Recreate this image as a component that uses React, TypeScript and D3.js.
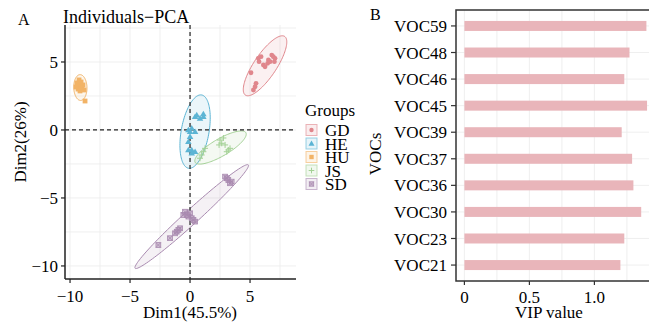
import React from "react";
import * as d3 from "d3";

// ---- data: PCA scores (Dim1, Dim2) per group ----
const groups = ["GD", "HE", "HU", "JS", "SD"];
const groupColors = ["#E0868C", "#5BB4D4", "#F2B366", "#A3D195", "#A98AB0"];

const gdPoints = [
  [5.69, 5.27], [5.75, 5.02], [5.92, 5.39], [6.11, 4.78], [6.25, 4.65], [6.47, 4.9],
  [6.53, 5.15], [6.67, 5.02], [6.81, 5.51], [6.94, 5.39], [7.08, 5.27], [7.03, 5.02],
  [5.42, 3.18], [5.28, 2.94], [5.5, 3.43], [5.08, 4.21],
];
const hePoints = [
  [0.42, 0.98], [0.56, 1.1], [0.83, 0.86], [1.11, 0.98], [1.11, 1.18], [-0.14, 0],
  [0.14, 0.13], [0.42, -0.13], [0, -0.13], [0, -0.49], [-0.14, -0.86], [-0.14, -1.47],
  [0.14, -1.47], [0.42, -1.6], [0.14, -1.71],
];
const huPoints = [
  [-9.42, 3.46], [-9.25, 3.24], [-9.08, 3.53], [-8.92, 3.31], [-9.33, 3.01], [-9.17, 2.87],
  [-9.0, 3.09], [-8.83, 2.94], [-9.5, 3.16], [-9.25, 3.68], [-8.75, 2.13],
];
const jsPoints = [
  [2.5, -0.74], [2.78, -0.59], [2.64, -0.98], [2.92, -1.1], [3.33, -1.35], [3.19, -1.47],
  [3.06, -1.6], [1.25, -1.35], [1.11, -1.6], [0.97, -1.84], [0.83, -2.08], [2.42, -1.1],
];
const sdPoints = [
  [2.92, -3.43], [3.19, -3.68], [3.33, -3.92], [3.47, -3.8], [3.06, -3.55], [-0.42, -6.01],
  [-0.28, -6.25], [-0.14, -6.37], [0, -6.13], [0.14, -6.49], [0.28, -6.62], [-0.56, -6.25],
  [-0.97, -7.35], [-1.11, -7.48], [-0.83, -7.23], [-1.25, -7.6], [-1.67, -7.96],
  [-2.64, -8.46], [0.42, -6.74],
];
const groupPoints = [gdPoints, hePoints, huPoints, jsPoints, sdPoints];

// confidence ellipses (data units): centre, semi axes, angle (deg)
const ellipseCx = [6.25, 0.42, -9.14, 2.54, 0.14];
const ellipseCy = [4.72, -0.12, 3.12, -1.29, -6.37];
const ellipseA = [2.71, 2.75, 0.95, 2.38, 6.06];
const ellipseB = [0.9, 1.15, 0.55, 0.65, 0.55];
const ellipseAngle = [52, 78, 92, 26.8, 38.8];

const pcaTicks = [-10, -5, 0, 5];
const pcaMinor = [-10, -7.5, -5, -2.5, 0, 2.5, 5, 7.5];

// ---- data: VIP values ----
const vocs = ["VOC59", "VOC48", "VOC46", "VOC45", "VOC39", "VOC37", "VOC36", "VOC30", "VOC23", "VOC21"];
const vip = [1.4, 1.27, 1.23, 1.405, 1.21, 1.29, 1.3, 1.36, 1.23, 1.2];
const vipTicks = [0, 0.5, 1.0];
const vipGrid = [0, 0.25, 0.5, 0.75, 1.0, 1.25];

const FONT = "'Liberation Serif', 'Times New Roman', serif";
const fmt = d3.format("");

function Symbol({ g, x, y, s = 2.4 }: { g: number; x: number; y: number; s?: number }) {
  const c = groupColors[g];
  if (g === 0) return <circle cx={x} cy={y} r={s} fill={c} />;
  if (g === 1) {
    const p = d3.symbol(d3.symbolTriangle, s * s * 3.2)();
    return <path d={p!} transform={`translate(${x},${y + 0.5})`} fill={c} />;
  }
  if (g === 2) return <rect x={x - s} y={y - s} width={s * 2} height={s * 2} fill={c} />;
  if (g === 3)
    return (
      <path d={`M${x - s - 0.6},${y}H${x + s + 0.6}M${x},${y - s - 0.6}V${y + s + 0.6}`} stroke={c} strokeWidth={1} />
    );
  return (
    <g stroke={c} strokeWidth={0.8} fill="none">
      <rect x={x - s} y={y - s} width={s * 2} height={s * 2} fill={c} fillOpacity={0.5} />
      <path d={`M${x - s},${y - s}L${x + s},${y + s}M${x + s},${y - s}L${x - s},${y + s}`} />
    </g>
  );
}

function PcaPanel() {
  const x = d3.scaleLinear().domain([-10.42, 8.83]).range([65, 296]);
  const y = d3.scaleLinear().domain([-10.96, 7.72]).range([279, 25]);
  const line = d3.line<number[]>().x((d) => x(d[0])).y((d) => y(d[1])).curve(d3.curveLinearClosed);

  const ellipsePath = (g: number) => {
    const th = (ellipseAngle[g] * Math.PI) / 180;
    const pts = d3.range(0, 2 * Math.PI, Math.PI / 60).map((t) => {
      const a = ellipseA[g] * Math.cos(t);
      const b = ellipseB[g] * Math.sin(t);
      return [ellipseCx[g] + a * Math.cos(th) - b * Math.sin(th), ellipseCy[g] + a * Math.sin(th) + b * Math.cos(th)];
    });
    return line(pts)!;
  };

  return (
    <g fontFamily={FONT}>
      <text x={18} y={25} fontSize={16}>A</text>
      <text x={63} y={23} fontSize={18}>Individuals−PCA</text>
      {pcaMinor.map((v) => (
        <line key={"gx" + v} x1={x(v)} x2={x(v)} y1={25} y2={279} stroke="#EBEBEB" strokeWidth={0.8} />
      ))}
      {pcaMinor.map((v) => (
        <line key={"gy" + v} x1={65} x2={296} y1={y(v)} y2={y(v)} stroke="#EBEBEB" strokeWidth={0.8} />
      ))}
      {groups.map((gName, g) => (
        <path key={"e" + gName} d={ellipsePath(g)} fill={groupColors[g]} fillOpacity={0.12} stroke={groupColors[g]} strokeWidth={1} />
      ))}
      <line x1={x(0)} x2={x(0)} y1={25} y2={279} stroke="#222" strokeWidth={1.2} strokeDasharray="4,3" />
      <line x1={65} x2={296} y1={y(0)} y2={y(0)} stroke="#222" strokeWidth={1.2} strokeDasharray="4,3" />
      {groupPoints.map((pts, g) =>
        pts.map((p, i) => <Symbol key={g + "-" + i} g={g} x={x(p[0])} y={y(p[1])} />)
      )}
      <line x1={65} x2={65} y1={25} y2={279} stroke="#222" strokeWidth={1.5} />
      <line x1={65} x2={296} y1={279} y2={279} stroke="#222" strokeWidth={1.5} />
      {pcaTicks.map((v) => (
        <g key={"ty" + v}>
          <line x1={61} x2={65} y1={y(v)} y2={y(v)} stroke="#222" strokeWidth={1.2} />
          <text x={58} y={y(v)} dy="0.35em" textAnchor="end" fontSize={17}>{fmt(v)}</text>
        </g>
      ))}
      {pcaTicks.map((v) => (
        <g key={"tx" + v}>
          <line x1={x(v)} x2={x(v)} y1={279} y2={283} stroke="#222" strokeWidth={1.2} />
          <text x={x(v)} y={302} textAnchor="middle" fontSize={17}>{fmt(v)}</text>
        </g>
      ))}
      <text x={190} y={318} textAnchor="middle" fontSize={17}>Dim1(45.5%)</text>
      <text transform="translate(26,142) rotate(-90)" textAnchor="middle" fontSize={17}>Dim2(26%)</text>
      {/* legend */}
      <text x={305} y={116} fontSize={17}>Groups</text>
      {groups.map((gName, g) => {
        const cy = 130 + g * 13.5;
        return (
          <g key={"l" + gName}>
            <rect x={306} y={cy - 5.5} width={11} height={11} fill={groupColors[g]} fillOpacity={0.15} stroke={groupColors[g]} strokeOpacity={0.6} strokeWidth={1} />
            <Symbol g={g} x={311.5} y={cy} s={2.2} />
            <text x={325} y={cy} dy="0.38em" fontSize={17}>{gName}</text>
          </g>
        );
      })}
    </g>
  );
}

function VipPanel() {
  const x = d3.scaleLinear().domain([-0.0646, 1.42]).range([456, 649]);
  const y = d3.scalePoint().domain(vocs).range([10, 281]).padding(0.6);
  const barH = 10;
  return (
    <g fontFamily={FONT}>
      <text x={370} y={20} fontSize={16}>B</text>
      {vipGrid.map((v) => (
        <line key={"g" + v} x1={x(v)} x2={x(v)} y1={10} y2={281} stroke="#EBEBEB" strokeWidth={0.8} />
      ))}
      {vocs.map((v) => (
        <line key={"h" + v} x1={456} x2={652} y1={y(v)} y2={y(v)} stroke="#EBEBEB" strokeWidth={0.8} />
      ))}
      {vocs.map((v, i) => (
        <rect key={v} x={x(0)} y={y(v)! - barH / 2} width={x(vip[i]) - x(0)} height={barH} fill="#E9B5BA" />
      ))}
      <rect x={456} y={10} width={200} height={271} fill="none" stroke="#333" strokeWidth={1.5} />
      {vocs.map((v) => (
        <g key={"t" + v}>
          <line x1={451} x2={456} y1={y(v)} y2={y(v)} stroke="#333" strokeWidth={1.2} />
          <text x={447} y={y(v)} dy="0.36em" textAnchor="end" fontSize={17}>{v}</text>
        </g>
      ))}
      {vipTicks.map((v) => (
        <g key={"tx" + v}>
          <line x1={x(v)} x2={x(v)} y1={281} y2={285} stroke="#333" strokeWidth={1.2} />
          <text x={x(v)} y={303} textAnchor="middle" fontSize={17}>{d3.format(v === 0 ? "" : ".1f")(v)}</text>
        </g>
      ))}
      <text x={549} y={318} textAnchor="middle" fontSize={17}>VIP value</text>
      <text transform="translate(381,154) rotate(-90)" textAnchor="middle" fontSize={17}>VOCs</text>
    </g>
  );
}

export default function App() {
  return (
    <svg width={649} height={324} style={{ position: "absolute", left: 0, top: 0, background: "#fff" }}>
      <PcaPanel />
      <VipPanel />
    </svg>
  );
}
